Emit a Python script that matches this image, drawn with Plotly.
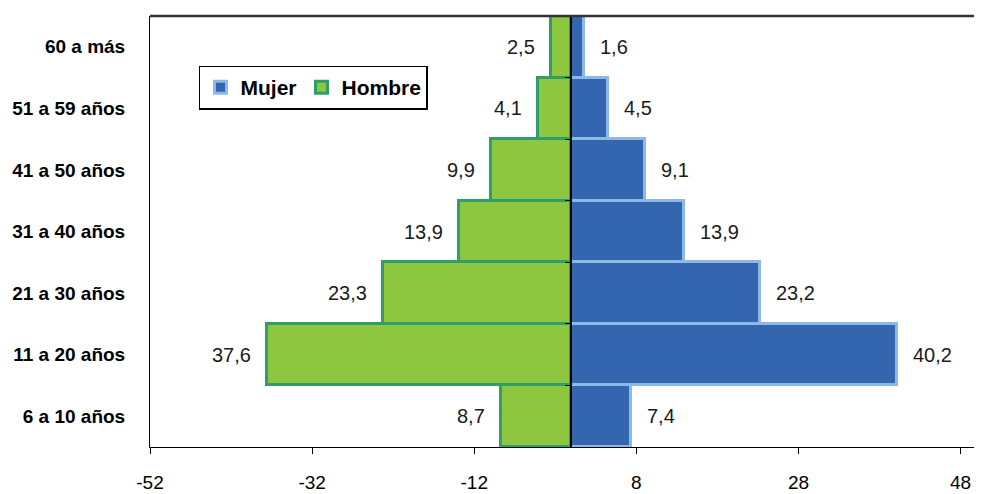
import plotly.graph_objects as go

categories = ["6 a 10 años", "11 a 20 años", "21 a 30 años", "31 a 40 años",
              "41 a 50 años", "51 a 59 años", "60 a más"]
mujer = [7.4, 40.2, 23.2, 13.9, 9.1, 4.5, 1.6]
hombre = [8.7, 37.6, 23.3, 13.9, 9.9, 4.1, 2.5]
x_ticks = [-52, -32, -12, 8, 28, 48]

FONT = "Liberation Sans Narrow, Arial Narrow, Liberation Sans, Arial, sans-serif"

def fmt(v):
    return f"{v:.1f}".replace(".", ",")

fig = go.Figure()
fig.add_trace(go.Bar(
    y=categories, x=mujer, orientation="h", name="Mujer",
    marker=dict(color="#3466B0", line=dict(color="#8DB9E6", width=3)),
))
fig.add_trace(go.Bar(
    y=categories, x=[-v for v in hombre], orientation="h", name="Hombre",
    marker=dict(color="#8DC63F", line=dict(color="#2F9E6A", width=3)),
))
# helper trace for the central category axis
fig.add_trace(go.Scatter(
    y=categories, x=[0] * len(categories), yaxis="y2", mode="markers",
    marker=dict(opacity=0), showlegend=False, hoverinfo="skip",
))

annotations = []
for c, v in zip(categories, mujer):
    annotations.append(dict(x=v, y=c, text=fmt(v), showarrow=False,
                            xanchor="left", xshift=14,
                            font=dict(family=FONT, size=20, color="#1a1a1a")))
for c, v in zip(categories, hombre):
    annotations.append(dict(x=-v, y=c, text=fmt(v), showarrow=False,
                            xanchor="right", xshift=-14,
                            font=dict(family=FONT, size=20, color="#1a1a1a")))

XMIN, XMAX = -52, 50.4
fig.update_layout(
    width=974, height=486,
    margin=dict(l=142, r=2, t=8, b=47),
    paper_bgcolor="white", plot_bgcolor="white",
    barmode="overlay", bargap=0,
    font=dict(family=FONT, size=19, color="black"),
    annotations=annotations,
    xaxis=dict(
        range=[XMIN, XMAX], tickmode="array", tickvals=x_ticks,
        ticktext=[str(t) for t in x_ticks], automargin=False,
        showgrid=False, zeroline=False, showline=True, linecolor="black", linewidth=1,
        ticks="outside", ticklen=6, tickcolor="black", ticklabelstandoff=12,
        tickfont=dict(family=FONT, size=19, color="black"),
    ),
    yaxis=dict(
        type="category", categoryorder="array", categoryarray=categories,
        range=[-0.5, 6.5], automargin=False,
        showgrid=False, zeroline=False, showline=True, linecolor="black", linewidth=1,
        ticks="", ticklabelstandoff=20,
        tickfont=dict(family=FONT, size=19, color="black", weight="bold"),
    ),
    yaxis2=dict(
        type="category", categoryorder="array", categoryarray=categories,
        range=[-0.5, 6.5], overlaying="y", anchor="free", automargin=False,
        position=(0 - XMIN) / (XMAX - XMIN),
        showgrid=False, zeroline=False, showline=True, linecolor="black", linewidth=1.5,
        ticks="outside", tickson="boundaries", ticklen=6, tickcolor="black",
        showticklabels=False,
    ),
    legend=dict(
        orientation="h", x=0.059, y=0.885, xanchor="left", yanchor="top",
        bgcolor="white", bordercolor="black", borderwidth=1.5,
        font=dict(family=FONT, size=21, color="black", weight="bold"),
        itemwidth=30, traceorder="normal",
    ),
    shapes=[
        dict(type="line", xref="paper", yref="paper", x0=0, x1=1.03, y0=1, y1=1,
             line=dict(color="#333333", width=2.5)),
    ],
    showlegend=True,
)

fig.write_html("out.html")
